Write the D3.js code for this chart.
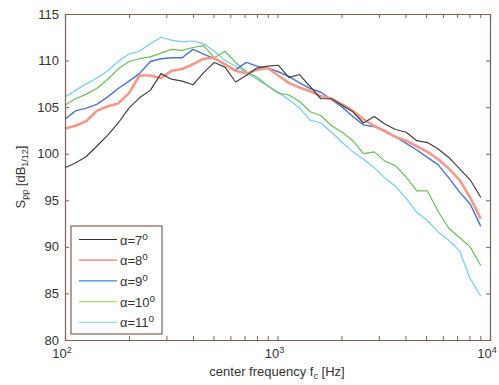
<!DOCTYPE html>
<html><head><meta charset="utf-8">
<script src="https://cdn.jsdelivr.net/npm/d3@7"></script>
<style>
body{margin:0;background:#fff;}
svg{display:block;font-family:"Liberation Sans",Arial,sans-serif;}
</style></head>
<body><svg id="c" width="499" height="385"></svg>
<script>
// 1/6-octave centre frequencies (Hz)
const freqs = [100,112,126,141,159,178,200,224,252,283,317,356,400,449,504,566,635,713,800,898,1008,1131,1270,1425,1600,1796,2016,2263,2540,2851,3200,3592,4032,4525,5080,5702,6400,7184,8063,9051];
const seriesNames = ["α=7°","α=8°","α=9°","α=10°","α=11°"];
const alpha7  = [98.5,99.0,99.7,100.8,102.0,103.3,104.9,106.0,106.8,108.6,108.0,107.8,107.4,108.7,109.8,109.3,107.7,108.4,109.2,109.4,109.5,108.2,108.5,107.2,105.9,105.9,105.2,104.5,103.3,104.0,103.2,102.6,102.3,101.4,101.2,100.5,99.6,98.4,97.2,95.3];
const alpha8  = [102.7,103.0,103.5,104.6,105.1,105.4,106.5,108.4,108.4,108.1,108.9,109.1,109.6,110.2,110.3,109.6,108.9,108.6,109.0,109.2,108.4,107.6,107.1,106.7,106.2,105.9,105.3,104.6,103.7,103.0,102.4,101.8,101.4,100.8,100.2,99.4,98.4,97.2,95.3,93.0];
const alpha9  = [103.7,104.6,104.9,105.3,106.1,107.0,107.8,108.6,109.9,110.2,110.3,110.3,111.2,110.7,110.2,109.6,109.0,109.8,109.4,109.2,108.8,108.3,107.6,107.0,106.6,105.8,105.0,104.0,103.1,102.9,102.5,101.8,101.1,100.4,99.6,98.8,97.4,95.9,94.6,92.2];
const alpha10 = [105.2,105.9,106.4,107.0,108.0,109.1,109.9,110.2,110.4,110.8,111.2,111.1,111.4,111.6,110.3,111.0,109.8,108.8,108.2,107.3,106.5,106.3,105.6,104.5,104.1,103.0,102.3,101.4,100.0,100.2,99.2,98.7,97.5,96.0,96.0,93.8,92.0,91.0,90.0,88.0];
const alpha11 = [106.1,106.8,107.5,108.1,108.9,109.9,110.7,111.0,111.8,112.5,112.2,112.0,112.1,111.8,111.0,110.0,109.4,108.7,108.0,107.3,106.6,105.8,104.9,103.6,103.3,102.3,101.2,100.2,99.4,98.5,97.4,96.5,95.2,93.7,92.8,91.6,90.7,89.6,86.6,84.7];
const yTicks = [80,85,90,95,100,105,110,115];
const xMajor = [100,1000,10000];
const xExp = ["2","3","4"];

const colors = ["#404040","#f7988a","#4a72d6","#68bf58","#72cdf0"];
const widths = [1.2,2.6,1.4,1.2,1.2];
const legendColors = ["#3a2a26","#f7a08c","#3f86d8","#b8d86a","#8fdcef"];

const svg = d3.select("#c");
const L=65,R=490,T=14,B=340;
const x = d3.scaleLog().domain([100,10000]).range([L,R]);
const y = d3.scaleLinear().domain([80,115]).range([B,T]);
const frame = "#7d6258";

const xMinor = [];
for (let d=100; d<10000; d*=10) for (let m=2;m<=9;m++) xMinor.push(d*m);

const g = svg.append("g");
// series
const data = [alpha7,alpha8,alpha9,alpha10,alpha11];
const line = d3.line().x((d,i)=>x(freqs[i])).y(d=>y(d));
// draw order: cyan, green, blue, red, black on top-ish
[4,3,2,1,0].forEach(s=>{
  g.append("path").datum(data[s]).attr("d",line)
   .attr("fill","none").attr("stroke",colors[s]).attr("stroke-width",widths[s])
   .attr("stroke-linejoin","round");
});

// axes
const ax = svg.append("g");
ax.append("g").attr("transform",`translate(0,${B})`)
  .call(d3.axisBottom(x).tickValues(xMinor.concat(xMajor)).tickSize(-4).tickFormat(""));
ax.append("g").attr("transform",`translate(0,${T})`)
  .call(d3.axisTop(x).tickValues(xMinor.concat(xMajor)).tickSize(-4).tickFormat(""));
ax.append("g").attr("transform",`translate(${L},0)`)
  .call(d3.axisLeft(y).tickValues(yTicks).tickSize(-4).tickFormat(""));
ax.append("g").attr("transform",`translate(${R},0)`)
  .call(d3.axisRight(y).tickValues(yTicks).tickSize(-4).tickFormat(""));
ax.selectAll(".domain").attr("stroke",frame).attr("stroke-width",1.2);
ax.selectAll(".tick line").attr("stroke",frame).attr("stroke-width",1);
// major x ticks slightly longer
ax.selectAll("g").each(function(){});

// y labels
yTicks.forEach(v=>{
  svg.append("text").attr("x",L-6).attr("y",y(v)+4.5).attr("text-anchor","end")
    .attr("font-size",13).attr("fill","#333").text(v);
});
// x labels
xMajor.forEach((v,i)=>{
  const t = svg.append("text").attr("x",x(v)-3).attr("y",358).attr("text-anchor","middle")
    .attr("font-size",13).attr("fill","#333");
  t.append("tspan").text("10");
  t.append("tspan").attr("dy",-5).attr("font-size",9).text(xExp[i]);
});
// x axis title
const xt = svg.append("text").attr("x",277).attr("y",376).attr("text-anchor","middle")
  .attr("font-size",13).attr("fill","#333");
xt.append("tspan").text("center frequency f");
xt.append("tspan").attr("dy",3).attr("font-size",9).text("c");
xt.append("tspan").attr("dy",-3).text(" [Hz]");
// y axis title
const yt = svg.append("text").attr("transform","translate(25,177) rotate(-90)")
  .attr("text-anchor","middle").attr("font-size",13).attr("fill","#333");
yt.append("tspan").text("S");
yt.append("tspan").attr("dy",3).attr("font-size",9).text("pp");
yt.append("tspan").attr("dy",-3).text(" [dB");
yt.append("tspan").attr("dy",3).attr("font-size",9).text("1/12");
yt.append("tspan").attr("dy",-3).text("]");

// legend
const lg = svg.append("g");
lg.append("rect").attr("x",71).attr("y",226).attr("width",91).attr("height",108)
  .attr("fill","#fff").attr("stroke",frame).attr("stroke-width",1.2);
seriesNames.forEach((n,i)=>{
  const yy = 239.5 + i*20.7;
  lg.append("line").attr("x1",79).attr("x2",117).attr("y1",yy).attr("y2",yy)
    .attr("stroke",legendColors[i]).attr("stroke-width",i===1?1.8:1.2);
  const t = lg.append("text").attr("x",120).attr("y",yy+5).attr("font-size",13).attr("fill","#333");
  t.append("tspan").text(n.replace("°",""));
  t.append("tspan").attr("dy",-5).attr("font-size",10).text("o");
});
</script></body></html>
